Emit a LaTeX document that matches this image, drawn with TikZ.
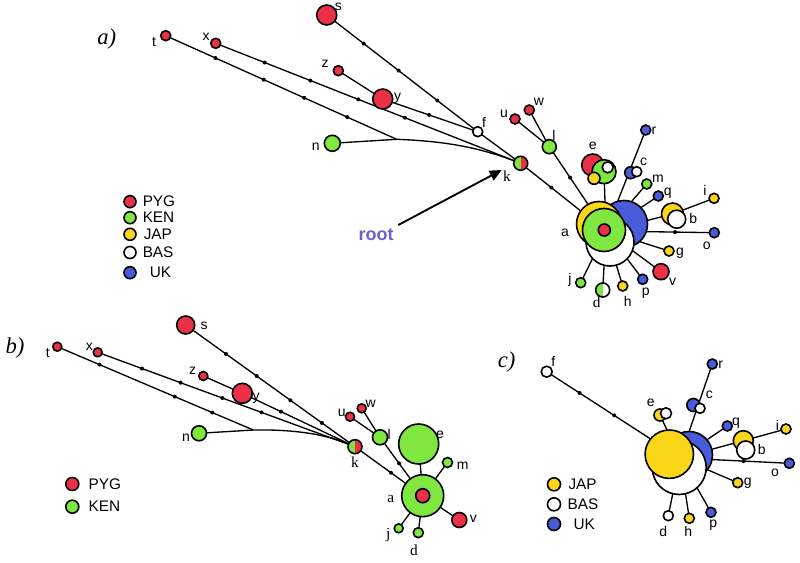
\documentclass[tikz,border=0pt]{standalone}
\usepackage{fontspec}
\setmainfont{Liberation Sans}
\newfontfamily\tms{Liberation Serif}
\usetikzlibrary{backgrounds,calc,arrows.meta}
\definecolor{pyg}{RGB}{236,48,72}
\definecolor{ken}{RGB}{128,230,64}
\definecolor{jap}{RGB}{250,214,24}
\definecolor{uk}{RGB}{72,92,218}
\definecolor{rootc}{RGB}{112,96,200}
\newcommand\mutdot[3]{\fill ($(#1)!(#3)!(#2)$) circle[radius=2];}
\tikzset{
  hap/.style={circle,draw=black,line width=1.2pt,inner sep=0pt,outer sep=0pt,minimum size=#1*1.5pt},
  kred/.style={fill=ken,path picture={\fill[pyg] (path picture bounding box.north) rectangle (path picture bounding box.south east);}},
  wgreen/.style={fill=white,path picture={\fill[ken] (path picture bounding box.south west) rectangle (path picture bounding box.north);}},
  conn/.style={line width=1pt},
  lbl/.style={font=\fontsize{10.5}{12}\selectfont,inner sep=0pt},
  lbls/.style={font=\tms\fontsize{11.5}{13}\selectfont,inner sep=0pt},
  leg/.style={font=\fontsize{11.5}{13}\selectfont,inner sep=0pt,anchor=west},
  panel/.style={font=\tms\itshape\fontsize{17}{19}\selectfont,inner sep=0pt},
}
\begin{document}
\begin{tikzpicture}[x=0.75pt,y=-0.75pt]
\useasboundingbox (0,0) rectangle (800,563);

%================ PANEL A =================
\node[panel] (labA) at (106.7,39) {a)};
% cluster a
\node[hap=23.5,fill=uk] (aAb) at (624,224) {};
\node[hap=24,fill=white] (aAw) at (610,242) {};
\node[hap=22.5,fill=jap] (aAy) at (599,224) {};
\node[hap=21.5,fill=ken] (aAg) at (604,230) {};
\node[hap=6,fill=pyg] (aAr) at (604.3,230) {};
\coordinate (aA) at (606,231);
% others
\node[hap=10,fill=pyg] (sA) at (326.7,15) {};
\node[hap=5,fill=pyg] (tA) at (165.7,35.7) {};
\node[hap=5,fill=pyg] (xA) at (215.7,43.3) {};
\node[hap=5,fill=pyg] (zA) at (338.3,70.7) {};
\node[hap=10,fill=pyg] (yA) at (382.7,99) {};
\node[hap=5,fill=white] (fA) at (477.7,131.7) {};
\node[hap=8,fill=ken] (nA) at (332.3,143.3) {};
\node[hap=7,kred] (kA) at (520.7,163.3) {};
\node[hap=5,fill=pyg] (uA) at (515,119) {};
\node[hap=5,fill=pyg] (wA) at (529.3,110) {};
\node[hap=7,fill=ken] (lA) at (549.3,146.7) {};
\node[hap=11,fill=pyg] (eAr) at (592.7,165) {};
\node[hap=12,fill=ken] (eAg) at (604,171.7) {};
\node[hap=5.5,fill=white] (eAw) at (607.7,167.3) {};
\node[hap=6,fill=jap] (eAy) at (594,178.3) {};
\node[hap=5,fill=uk] (rA) at (645.7,130) {};
\node[hap=6,fill=uk] (cAb) at (630.7,172.7) {};
\node[hap=5,fill=white] (cAw) at (636.7,171.7) {};
\node[hap=5,fill=ken] (mA) at (646.7,184) {};
\node[hap=5,fill=uk] (qA) at (658.3,196) {};
\node[hap=5,fill=jap] (iA) at (714,198.3) {};
\node[hap=11,fill=jap] (bAy) at (672.5,214) {};
\node[hap=9,fill=white] (bAw) at (676.7,219.2) {};
\node[hap=5,fill=uk] (oA) at (714.3,232.7) {};
\node[hap=5,fill=jap] (gA) at (669,251) {};
\node[hap=8,fill=pyg] (vA) at (661,271.7) {};
\node[hap=5,fill=uk] (pA) at (642.7,279.3) {};
\node[hap=5,fill=jap] (hA) at (622.7,286) {};
\node[hap=7,wgreen] (dA) at (602.7,290) {};
\node[hap=5,fill=ken] (jA) at (580.7,282.7) {};
\coordinate (mgA) at (396.7,139.3);

\begin{pgfonlayer}{background}
\draw[conn] (sA) -- (fA);
\draw[conn] (zA) -- (yA);
\draw[conn] (yA) -- (fA);
\draw[conn] (fA) -- (kA);
\draw[conn] (xA) -- (kA);
\draw[conn] (tA) -- (mgA);
\draw[conn] (nA) -- (mgA) .. controls (440,141) and (475,146) .. (kA);
\draw[conn] (kA) -- (aA);
\draw[conn] (uA) -- (lA);
\draw[conn] (wA) -- (lA);
\draw[conn] (lA) -- (aA);
\draw[conn] (eAg) -- (aA);
\draw[conn] (rA) -- (aA);
\draw[conn] (mA) -- (aA);
\draw[conn] (qA) -- (aA);
\draw[conn] (iA) -- (bAy);
\draw[conn] (bAy) -- (aA);
\draw[conn] (oA) -- (aA);
\draw[conn] (gA) -- (aA);
\draw[conn] (vA) -- (aA);
\draw[conn] (pA) -- (aA);
\draw[conn] (hA) -- (aA);
\draw[conn] (dA) -- (aA);
\draw[conn] (jA) -- (aA);
\end{pgfonlayer}
\mutdot{sA}{fA}{363.3,44}
\mutdot{sA}{fA}{398.3,71}
\mutdot{sA}{fA}{437.7,100}
\mutdot{yA}{fA}{429,115}
\mutdot{xA}{kA}{264.3,63.3}
\mutdot{xA}{kA}{310,81.7}
\mutdot{xA}{kA}{357.7,101}
\mutdot{xA}{kA}{404,120}
\mutdot{tA}{mgA}{215,59}
\mutdot{tA}{mgA}{263.3,80.7}
\mutdot{tA}{mgA}{304,98.3}
\mutdot{tA}{mgA}{346.7,118.3}
\mutdot{kA}{aA}{551.7,187}
\mutdot{lA}{aA}{569.5,178}
\mutdot{oA}{aA}{675,232.3}

% labels a
\node[lbl] (LsA) at (338.3,7.3) {s};
\node[lbl] (LtA) at (154,42) {t};
\node[lbl] (LxA) at (206,36.7) {x};
\node[lbl] (LzA) at (325,64) {z};
\node[lbl] (LyA) at (397.7,98) {y};
\node[lbl] (LfA) at (484,122.7) {f};
\node[lbl] (LnA) at (315.7,146.7) {n};
\node[lbls] (LkA) at (507,176) {k};
\node[lbl] (LuA) at (504,114) {u};
\node[lbl] (LwA) at (539,101.7) {w};
\node[lbl] (LlA) at (554,135) {l};
\node[lbl] (LeA) at (592.7,146) {e};
\node[lbl] (LrA) at (654,131) {r};
\node[lbl] (LcA) at (643.7,162.3) {c};
\node[lbl] (LmA) at (658,179) {m};
\node[lbl] (LqA) at (667.7,193.3) {q};
\node[lbl] (LiA) at (705,190.7) {i};
\node[lbl] (LbA) at (693.3,218.3) {b};
\node[lbl] (LoA) at (706.7,246) {o};
\node[lbl] (LgA) at (680,253.3) {g};
\node[lbl] (LvA) at (672.7,281.7) {v};
\node[lbl] (LpA) at (645.7,293.3) {p};
\node[lbl] (LhA) at (627.7,301.7) {h};
\node[lbls] (LdA) at (596.7,302.7) {d};
\node[lbl] (LjA) at (570,280) {j};
\node[lbl] (LaA) at (565,232.7) {a};

% root arrow
\node[font=\bfseries\fontsize{13.5}{15}\selectfont,text=rootc,inner sep=0pt] (root) at (376,235) {root};
\coordinate (arrS) at (398.3,225);
\coordinate (arrE) at (501.7,170);
\draw[line width=1.4pt,-{Triangle[length=9pt,width=8pt]}] (arrS) -- (arrE);

% legend a
\node[hap=6,fill=pyg] (gA1) at (130,201.7) {};
\node[leg] (gA1t) at (142.5,201.7) {PYG};
\node[hap=6,fill=ken] (gA2) at (130,217.7) {};
\node[leg] (gA2t) at (142.5,217.7) {KEN};
\node[hap=6,fill=jap] (gA3) at (130,234.3) {};
\node[leg] (gA3t) at (143.5,234.3) {JAP};
\node[hap=6,fill=white] (gA4) at (130,252.5) {};
\node[leg] (gA4t) at (142.5,252.5) {BAS};
\node[hap=6,fill=uk] (gA5) at (130,272.7) {};
\node[leg] (gA5t) at (149.5,272.7) {UK};

%================ PANEL B =================
\node[panel] (labB) at (15,348.3) {b)};
\node[hap=21,fill=ken] (aBg) at (422.7,495.7) {};
\node[hap=7,fill=pyg] (aBr) at (422.7,495.7) {};
\coordinate (aB) at (422.7,495.7);
\node[hap=4.5,fill=pyg] (tB) at (57.3,346.7) {};
\node[hap=4.5,fill=pyg] (xB) at (97.7,352.3) {};
\node[hap=9,fill=pyg] (sB) at (185.7,325) {};
\node[hap=4.5,fill=pyg] (zB) at (203.3,376) {};
\node[hap=10,fill=pyg] (yB) at (242.3,393.3) {};
\node[hap=7.5,fill=ken] (nB) at (199,433.3) {};
\node[hap=4.5,fill=pyg] (wB) at (361.7,408.3) {};
\node[hap=4.5,fill=pyg] (uB) at (350,416.7) {};
\node[hap=7.5,fill=ken] (lB) at (380,437.3) {};
\node[hap=7,kred] (kB) at (355,446.7) {};
\node[hap=20,fill=ken] (eB) at (418.7,444) {};
\node[hap=5,fill=ken] (mB) at (447.5,462.5) {};
\node[hap=7.5,fill=pyg] (vB) at (459.3,520) {};
\node[hap=4.5,fill=ken] (jB) at (398.7,528.3) {};
\node[hap=5,fill=ken] (dB) at (418.3,532.7) {};
\coordinate (mgB) at (253.3,430);

\begin{pgfonlayer}{background}
\draw[conn] (sB) -- (kB);
\draw[conn] (zB) -- (yB);
\draw[conn] (yB) -- (kB);
\draw[conn] (xB) -- (kB);
\draw[conn] (tB) -- (mgB);
\draw[conn] (nB) -- (mgB) .. controls (285,429.5) and (320,432) .. (kB);
\draw[conn] (kB) -- (aB);
\draw[conn] (uB) -- (lB);
\draw[conn] (wB) -- (lB);
\draw[conn] (lB) -- (aB);
\draw[conn] (eB) -- (aB);
\draw[conn] (mB) -- (aB);
\draw[conn] (vB) -- (aB);
\draw[conn] (jB) -- (aB);
\draw[conn] (dB) -- (aB);
\end{pgfonlayer}
\mutdot{sB}{kB}{226,354}
\mutdot{sB}{kB}{256.7,376}
\mutdot{sB}{kB}{288.3,403.3}
\mutdot{sB}{kB}{321.7,423.3}
\mutdot{yB}{kB}{281.7,410}
\mutdot{xB}{kB}{141.7,369.3}
\mutdot{xB}{kB}{180,384.3}
\mutdot{xB}{kB}{221.7,400}
\mutdot{xB}{kB}{261,414}
\mutdot{tB}{mgB}{99.3,365}
\mutdot{tB}{mgB}{175,396}
\mutdot{tB}{mgB}{212.3,412.3}
\mutdot{kB}{aB}{391.7,471.7}
\mutdot{lB}{aB}{400,462.7}

\node[lbl] (LtB) at (47.7,353.3) {t};
\node[lbl] (LxB) at (89.3,346.7) {x};
\node[lbl] (LsB) at (204,326) {s};
\node[lbl] (LzB) at (192.7,371) {z};
\node[lbl] (LyB) at (256,398.3) {y};
\node[lbl] (LnB) at (186,437.7) {n};
\node[lbl] (LwB) at (370.7,404.3) {w};
\node[lbl] (LuB) at (341.7,413.3) {u};
\node[lbl] (LlB) at (389.3,434) {l};
\node[lbls] (LkB) at (355,461.7) {k};
\node[lbl] (LeB) at (440,434.3) {e};
\node[lbl] (LmB) at (462.7,466) {m};
\node[lbls] (LaB) at (390.7,499) {a};
\node[lbl] (LvB) at (473.3,519) {v};
\node[lbls] (LjB) at (388.3,535) {j};
\node[lbls] (LdB) at (414,550) {d};

\node[hap=6.5,fill=pyg] (gB1) at (72.3,484) {};
\node[leg] (gB1t) at (88.3,484) {PYG};
\node[hap=6.5,fill=ken] (gB2) at (72.3,506.7) {};
\node[leg] (gB2t) at (88.3,506.7) {KEN};

%================ PANEL C =================
\node[panel] (labC) at (506.7,362.3) {c)};
\node[hap=23.5,fill=uk] (aCb) at (689,455) {};
\node[hap=27,fill=white] (aCw) at (679.2,467.5) {};
\node[hap=24.2,fill=jap] (aCy) at (669.3,454.2) {};
\coordinate (aC) at (680,458);
\node[hap=5.5,fill=white] (fC) at (546.7,371.7) {};
\node[hap=5,fill=uk] (rC) at (712.3,364) {};
\node[hap=6.5,fill=uk] (cCb) at (693.3,405) {};
\node[hap=5,fill=white] (cCw) at (700,408.3) {};
\node[hap=6,fill=jap] (eCy) at (660,415) {};
\node[hap=5.5,fill=white] (eCw) at (666,413.3) {};
\node[hap=5,fill=uk] (qC) at (727.3,426) {};
\node[hap=10,fill=jap] (bCy) at (743.3,440.7) {};
\node[hap=9,fill=white] (bCw) at (745.7,450) {};
\node[hap=5,fill=jap] (iC) at (786,429) {};
\node[hap=5,fill=uk] (oC) at (789.3,463.3) {};
\node[hap=5,fill=jap] (gC) at (737.7,482.7) {};
\node[hap=5,fill=uk] (pC) at (711,512.3) {};
\node[hap=5,fill=jap] (hC) at (689.3,518.3) {};
\node[hap=5,fill=white] (dC) at (668.3,515.7) {};

\begin{pgfonlayer}{background}
\draw[conn] (fC) -- (aC);
\draw[conn] (rC) -- (aC);
\draw[conn] (eCy) -- (aC);
\draw[conn] (qC) -- (aC);
\draw[conn] (iC) -- (bCy);
\draw[conn] (bCy) -- (aC);
\draw[conn] (oC) -- (aC);
\draw[conn] (gC) -- (aC);
\draw[conn] (pC) -- (aC);
\draw[conn] (hC) -- (aC);
\draw[conn] (dC) -- (aC);
\end{pgfonlayer}
\mutdot{fC}{aC}{578.3,395}
\mutdot{fC}{aC}{611.7,419.3}
\mutdot{oC}{aC}{743.3,462.7}

\node[lbl] (LfC) at (553.3,361.7) {f};
\node[lbl] (LrC) at (720.7,365) {r};
\node[lbl] (LcC) at (709.3,395) {c};
\node[lbl] (LeC) at (650.7,402.7) {e};
\node[lbl] (LqC) at (736,423.3) {q};
\node[lbl] (LbC) at (761.7,449) {b};
\node[lbl] (LiC) at (777.3,425) {i};
\node[lbl] (LoC) at (775,472.7) {o};
\node[lbl] (LgC) at (747.7,483.3) {g};
\node[lbl] (LpC) at (713.3,525) {p};
\node[lbl] (LhC) at (688.3,531.7) {h};
\node[lbl] (LdC) at (663.3,531.7) {d};

\node[hap=6.5,fill=jap] (gC1) at (554,484.3) {};
\node[leg] (gC1t) at (568.3,484.3) {JAP};
\node[hap=6.5,fill=white] (gC2) at (554,504.3) {};
\node[leg] (gC2t) at (567.3,504.3) {BAS};
\node[hap=6.5,fill=uk] (gC3) at (554,524) {};
\node[leg] (gC3t) at (573.3,524) {UK};
\end{tikzpicture}
\end{document}
